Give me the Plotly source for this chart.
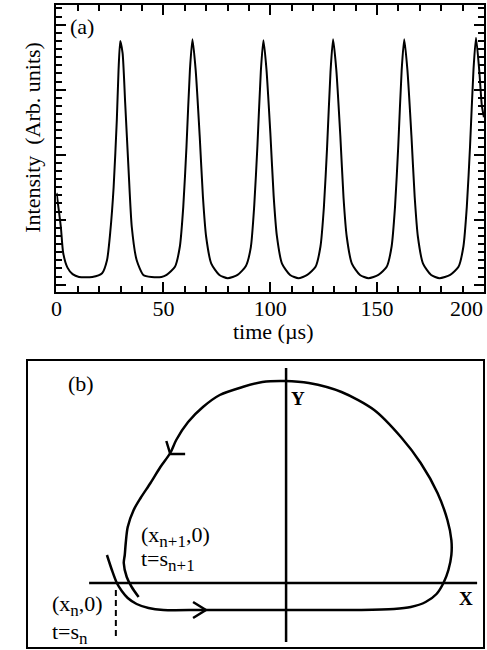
import plotly.graph_objects as go

# ---------------- Panel (a): pulse train ----------------
time_us = [0.0, 2.0, 3.1, 5.1, 7.5, 10.5, 16.7, 21.3, 23.6, 25.1, 26.7, 28.2, 29.0, 29.8, 30.9, 32.1, 33.7, 35.2, 37.5, 40.6, 44.4,
           49.1, 51.5, 55.4, 57.7, 59.3, 60.8, 62.4, 63.6, 65.1, 67.0, 68.5, 70.0, 72.4, 76.2, 80.1,
           84.7, 88.6, 90.9, 92.5, 94.0, 95.6, 96.8, 98.2, 100.1, 101.6, 103.1, 105.5, 109.3, 113.2,
           117.3, 121.2, 123.5, 125.1, 126.6, 128.2, 129.4, 130.9, 132.8, 134.3, 135.8, 138.2, 142.0, 146.0,
           150.6, 154.5, 156.8, 158.4, 159.9, 161.5, 162.7, 164.2, 166.1, 167.6, 169.1, 171.5, 175.3, 179.2,
           184.2, 188.1, 190.4, 192.0, 193.5, 195.1, 196.3, 197.8, 199.0, 200.0]
intensity = [12.2, 8.0, 4.8, 3.0, 2.2, 1.85, 1.85, 2.3, 3.9, 7.3, 12.9, 21.2, 27.3, 30.9, 29.4, 23.3, 15.0, 8.0, 3.9, 2.1, 1.85,
             1.85, 2.1, 3.1, 5.6, 10.5, 17.9, 27.3, 31.1, 27.3, 19.1, 11.7, 6.8, 3.5, 2.1, 1.7,
             2.1, 3.2, 5.5, 10.6, 18.0, 27.2, 31.0, 27.5, 19.3, 11.8, 6.9, 3.5, 2.1, 1.7,
             2.1, 3.1, 5.6, 10.4, 17.8, 27.1, 31.1, 27.4, 19.2, 11.6, 6.8, 3.5, 2.1, 1.7,
             2.1, 3.1, 5.6, 10.5, 17.9, 27.3, 31.1, 27.3, 19.1, 11.7, 6.8, 3.5, 2.1, 1.7,
             2.1, 3.1, 5.6, 10.5, 17.9, 27.3, 31.3, 27.3, 23.0, 21.5]
x_ticks = [0, 50, 100, 150, 200]
x_tick_labels = ["0", "50", "100", "150", "200"]

# ---------------- Panel (b): phase-space sketch ----------------
loop_x = [-181, -176, -171, -166, -160, -151, -139, -124, -84, -1, 76, 109, 126, 141, 152, 159, 164, 167, 167, 163,
          153, 136, 116, 89, 56, 23, -1, -24, -44, -67, -84, -99, -111, -117, -127, -137, -147, -154, -160, -162,
          -163, -164, -161, -156, -149]
loop_y = [28, 13, 0, -8, -15, -21, -25, -27, -27, -27, -27, -26, -24, -19, -11, 0, 13, 28, 43, 63,
          90, 120, 146, 173, 191, 200, 202, 201, 196, 188, 176, 161, 143, 130, 116, 100, 85, 73, 56, 40,
          28, 20, 6, -4, -14]
arrow1_x = [-102, -117, -121]
arrow1_y = [129, 129, 142]
arrow2_x = [-94, -81, -94]
arrow2_y = [-19, -27, -35]
xaxis_line_x = [-199, 193]
xaxis_line_y = [0, 0]
yaxis_line_x = [0, 0]
yaxis_line_y = [215, -59]
dash_x = [-172, -172]
dash_y = [-7, -54]

FONT = "Liberation Serif"
W, H = 487, 650

fig = go.Figure()
fig.add_trace(go.Scatter(x=time_us, y=intensity, mode="lines",
                         line=dict(color="black", width=2, shape="spline", smoothing=0.6),
                         xaxis="x", yaxis="y", hoverinfo="skip"))

blk = dict(color="black", width=2.5)
for xs, ys, ln in [(loop_x, loop_y, dict(color="black", width=2.5, shape="spline", smoothing=0.8)),
                   (arrow1_x, arrow1_y, blk), (arrow2_x, arrow2_y, blk),
                   (xaxis_line_x, xaxis_line_y, blk), (yaxis_line_x, yaxis_line_y, blk),
                   (dash_x, dash_y, dict(color="black", width=2, dash="6px,4px"))]:
    fig.add_trace(go.Scatter(x=xs, y=ys, mode="lines", line=ln, xaxis="x2", yaxis="y2", hoverinfo="skip"))

def px_x(p):
    return p / W

def px_y(p):
    return 1 - p / H

# last tick label sits flush with the frame in the reference, so it is drawn as an annotation
axis_tick_text = x_tick_labels[:-1] + [""]

fig.update_layout(
    width=W, height=H, margin=dict(l=0, r=0, t=0, b=0),
    paper_bgcolor="white", plot_bgcolor="white", showlegend=False,
    font=dict(family=FONT, color="black", size=20),
    xaxis=dict(domain=[px_x(52), px_x(484)], range=[-0.05, 200.05], tickvals=x_ticks, ticktext=axis_tick_text,
               ticks="inside", ticklen=10, tickwidth=1.5, tickcolor="black",
               showline=True, linecolor="black", linewidth=2, mirror="allticks",
               showgrid=False, zeroline=False, tickfont=dict(family=FONT, size=22),
               ticklabelstandoff=-4,
               minor=dict(dtick=10, tick0=0, ticks="inside", ticklen=6, tickwidth=1.5, tickcolor="black", showgrid=False),
               anchor="y"),
    yaxis=dict(domain=[px_y(292), px_y(5)], range=[0, 287 / 8.125], tick0=0.9, dtick=8, showticklabels=False,
               ticks="inside", ticklen=10, tickwidth=1.5, tickcolor="black",
               showline=True, linecolor="black", linewidth=2, mirror="allticks",
               showgrid=False, zeroline=False,
               minor=dict(dtick=1, tick0=0.9, ticks="inside", ticklen=6, tickwidth=1.5, tickcolor="black", showgrid=False),
               anchor="x"),
    xaxis2=dict(domain=[px_x(23), px_x(483)], range=[-261, 199], showticklabels=False, ticks="",
                showline=True, linecolor="black", linewidth=2, mirror=True,
                showgrid=False, zeroline=False, anchor="y2"),
    yaxis2=dict(domain=[px_y(647), px_y(361)], range=[-64, 222], showticklabels=False, ticks="",
                showline=True, linecolor="black", linewidth=2, mirror=True,
                showgrid=False, zeroline=False, anchor="x2"),
)

SUB = "<sub><span style='font-size:17px'>{}</span></sub>"
C = dict(showarrow=False, xanchor="center", yanchor="middle")
L = dict(showarrow=False, xanchor="left", yanchor="middle")
ann = []
ann.append(dict(text=x_tick_labels[-1], x=px_x(485), y=px_y(308), xref="paper", yref="paper",
                font=dict(size=22), showarrow=False, xanchor="right", yanchor="middle"))
ann.append(dict(text="(a)", x=px_x(78), y=px_y(27), xref="paper", yref="paper", font=dict(size=22), **C))
ann.append(dict(text="time (µs)", x=px_x(271), y=px_y(331), xref="paper", yref="paper", font=dict(size=22), **C))
ann.append(dict(text="Intensity  (Arb. units)", x=px_x(27), y=px_y(137), xref="paper", yref="paper",
                textangle=-90, font=dict(size=22), **C))
ann.append(dict(text="(b)", x=-207, y=200, xref="x2", yref="y2", font=dict(size=22), **C))
ann.append(dict(text="<b>Y</b>", x=12, y=185, xref="x2", yref="y2", font=dict(size=19), **C))
ann.append(dict(text="<b>X</b>", x=182, y=-15, xref="x2", yref="y2", font=dict(size=19), **C))
ann.append(dict(text="(x" + SUB.format("n+1") + ",0)", x=-149, y=47, xref="x2", yref="y2", font=dict(size=22), **L))
ann.append(dict(text="t=s" + SUB.format("n+1"), x=-149, y=23, xref="x2", yref="y2", font=dict(size=22), **L))
ann.append(dict(text="(x" + SUB.format("n") + ",0)", x=-239, y=-22, xref="x2", yref="y2", font=dict(size=22), **L))
ann.append(dict(text="t=s" + SUB.format("n"), x=-239, y=-50, xref="x2", yref="y2", font=dict(size=22), **L))
fig.update_layout(annotations=ann)

fig.write_html("out.html")
